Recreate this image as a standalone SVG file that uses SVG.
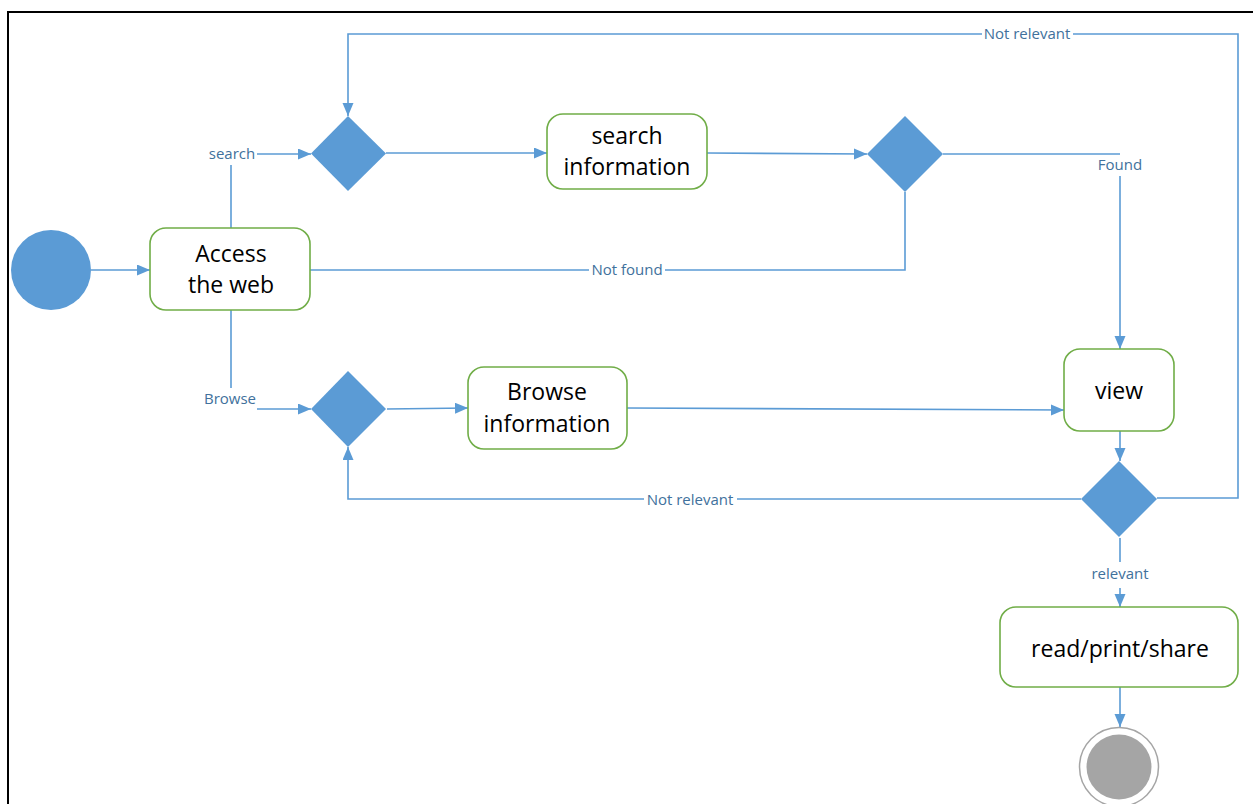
<svg xmlns="http://www.w3.org/2000/svg" width="1253" height="804" viewBox="0 0 1253 804">
<style>
.node{fill:#fff;stroke:#70AD47;stroke-width:1.6}
.dec{fill:#5B9BD5}
.t{font-family:"Open Sans","Liberation Sans",sans-serif;font-size:23px;fill:#000;text-anchor:middle}
.lbl{font-family:"Open Sans","Liberation Sans",sans-serif;font-size:15px;fill:#41719C;text-anchor:middle}
.c{fill:none;stroke:#5B9BD5;stroke-width:1.6}
</style>
<defs>
<marker id="arr" markerUnits="userSpaceOnUse" markerWidth="14" markerHeight="12" refX="13" refY="5.5" orient="auto">
<path d="M0,0 L13,5.5 L0,11 z" fill="#5B9BD5"/>
</marker>
</defs>
<rect width="1253" height="804" fill="#fff"/>
<path d="M8,804 V12 H1253" fill="none" stroke="#000" stroke-width="2"/>

<g id="connectors">
<path class="c" d="M91,270 H150" marker-end="url(#arr)"/>
<path class="c" d="M231,228 V165"/>
<path class="c" d="M257,154 H311" marker-end="url(#arr)"/>
<path class="c" d="M386,153 H547" marker-end="url(#arr)"/>
<path class="c" d="M707,153 L867,154" marker-end="url(#arr)"/>
<path class="c" d="M943,154 H1120"/>
<path class="c" d="M1120,176 V349" marker-end="url(#arr)"/>
<path class="c" d="M905,192 V270 H665"/>
<path class="c" d="M589,270 H310"/>
<path class="c" d="M231,310 V388"/>
<path class="c" d="M257,409 H311" marker-end="url(#arr)"/>
<path class="c" d="M387,409 L468,408" marker-end="url(#arr)"/>
<path class="c" d="M627,408 L1064,410" marker-end="url(#arr)"/>
<path class="c" d="M1120,431 V461" marker-end="url(#arr)"/>
<path class="c" d="M1081,499 H737"/>
<path class="c" d="M644,499 H348 V447" marker-end="url(#arr)"/>
<path class="c" d="M1157,498 H1238 V34 H1073"/>
<path class="c" d="M982,34 H348 V116" marker-end="url(#arr)"/>
<path class="c" d="M1120,538 V562"/>
<path class="c" d="M1120,588 V607" marker-end="url(#arr)"/>
<path class="c" d="M1120,687 V727" marker-end="url(#arr)"/>
<text class="lbl" x="232" y="159">search</text>
<text class="lbl" x="1120" y="170">Found</text>
<text class="lbl" x="627" y="275">Not found</text>
<text class="lbl" x="230" y="404">Browse</text>
<text class="lbl" x="1027" y="39">Not relevant</text>
<text class="lbl" x="690" y="505">Not relevant</text>
<text class="lbl" x="1120" y="579">relevant</text>
</g>

<g id="start"><circle cx="51" cy="270" r="40" fill="#5B9BD5"/></g>

<g id="access">
<rect class="node" x="150" y="228" width="160" height="82" rx="16"/>
<text class="t" x="231" y="262">Access</text>
<text class="t" x="231" y="293">the web</text>
</g>

<g id="dec-search"><path class="dec" d="M348,116 L386,153.5 L348,191 L311,153.5 z"/></g>

<g id="search-info">
<rect class="node" x="547" y="114" width="160" height="75" rx="16"/>
<text class="t" x="627" y="144">search</text>
<text class="t" x="627" y="175">information</text>
</g>

<g id="dec-found"><path class="dec" d="M905,116 L943,154 L905,192 L867,154 z"/></g>

<g id="dec-browse"><path class="dec" d="M348,371 L386,409 L348,447 L311,409 z"/></g>

<g id="browse-info">
<rect class="node" x="468" y="367" width="159" height="82" rx="16"/>
<text class="t" x="547" y="400">Browse</text>
<text class="t" x="547" y="432">information</text>
</g>

<g id="view">
<rect class="node" x="1064" y="349" width="110" height="82" rx="16"/>
<text class="t" x="1119" y="399">view</text>
</g>

<g id="dec-relevant"><path class="dec" d="M1119,461 L1157,499 L1119,537 L1081,499 z"/></g>

<g id="read">
<rect class="node" x="1000" y="607" width="238" height="80" rx="16"/>
<text class="t" x="1120" y="657">read/print/share</text>
</g>

<g id="end">
<circle cx="1119" cy="767" r="39.5" fill="#fff" stroke="#A5A5A5" stroke-width="1.5"/>
<circle cx="1119" cy="767" r="32.5" fill="#A5A5A5"/>
</g>
</svg>
